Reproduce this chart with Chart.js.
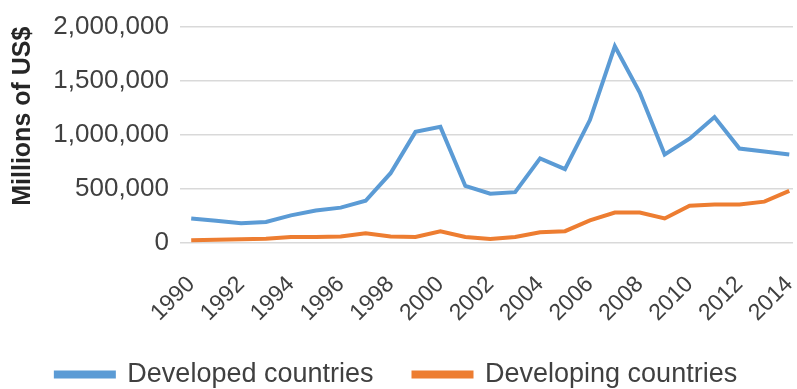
<!DOCTYPE html>
<html>
<head>
<meta charset="utf-8">
<script src="https://cdn.jsdelivr.net/npm/chart.js@4"></script>
<style>
  body { margin: 0; background: #fff; overflow: hidden; }
  #wrap { width: 797px; height: 389px; }
</style>
</head>
<body>
<div id="wrap"><canvas id="myChart"></canvas></div>
<script>
// data (millions of US$)
const years = [1990, 1991, 1992, 1993, 1994, 1995, 1996, 1997, 1998, 1999, 2000, 2001, 2002,
  2003, 2004, 2005, 2006, 2007, 2008, 2009, 2010, 2011, 2012, 2013, 2014];
const developed = [227000, 205000, 182000, 195000, 255000, 300000, 327000, 390000, 645000, 1027000,
  1073000, 527000, 455000, 470000, 782000, 682000, 1136000, 1818000, 1390000, 818000,
  964000, 1164000, 873000, 845000, 818000];
const developing = [25000, 30000, 35000, 40000, 55000, 55000, 60000, 90000, 60000, 55000,
  109000, 55000, 36000, 55000, 100000, 109000, 209000, 282000, 282000, 227000,
  345000, 355000, 355000, 382000, 482000];
const yearTicks = [1990, 1992, 1994, 1996, 1998, 2000, 2002, 2004, 2006, 2008, 2010, 2012, 2014];

const textColor = '#404040';
const fontFamily = '"Liberation Sans", Arial, sans-serif';

const ctx = document.getElementById('myChart').getContext('2d');

const myChart = new Chart(ctx, {
  type: 'line',
  data: {
    datasets: [{
      label: 'Developed countries',
      data: developed.map((v, i) => ({ x: years[i], y: v })),
      borderColor: '#5b9bd5',
      backgroundColor: '#5b9bd5',
      borderWidth: 4,
      pointRadius: 0,
      tension: 0
    }, {
      label: 'Developing countries',
      data: developing.map((v, i) => ({ x: years[i], y: v })),
      borderColor: '#ed7d31',
      backgroundColor: '#ed7d31',
      borderWidth: 4,
      pointRadius: 0,
      tension: 0
    }]
  },
  options: {
    responsive: true,
    maintainAspectRatio: false,
    animation: false,
    layout: { padding: { top: 22, right: 4, left: 0, bottom: 0 } },
    plugins: {
      tooltip: { enabled: false },
      legend: {
        position: 'bottom',
        maxHeight: 68,
        labels: {
          boxWidth: 58,
          boxHeight: 4,
          padding: 40,
          color: textColor,
          // small line height keeps the legend row compact
          font: { family: fontFamily, size: 27, lineHeight: 0.2 }
        }
      }
    },
    scales: {
      x: {
        type: 'linear',
        min: 1989.55,
        max: 2014.15,
        grid: { display: false },
        border: { display: false },
        afterBuildTicks: (scale) => {
          scale.ticks = yearTicks.map(v => ({ value: v }));
        },
        afterFit: (scale) => {
          scale.height = 78;
          // let the plot run to the right edge like the original
          scale.paddingLeft = 0;
          scale.paddingRight = 0;
        },
        ticks: {
          autoSkip: false,
          maxRotation: 45,
          minRotation: 45,
          padding: 20,
          color: textColor,
          font: { family: fontFamily, size: 23 },
          callback: (v) => String(v)
        }
      },
      y: {
        min: 0,
        max: 2000000,
        afterFit: (scale) => { scale.width = 180; },
        grid: { color: '#d9d9d9', lineWidth: 1.5, drawTicks: false },
        border: { display: false },
        ticks: {
          stepSize: 500000,
          padding: 11,
          color: textColor,
          font: { family: fontFamily, size: 26 }
        },
        title: {
          display: true,
          text: 'Millions of US$',
          align: 'end',
          color: '#262626',
          padding: { top: 8, bottom: 0 },
          font: { family: fontFamily, size: 25, weight: 'bold' }
        }
      }
    }
  }
});
</script>
</body>
</html>
